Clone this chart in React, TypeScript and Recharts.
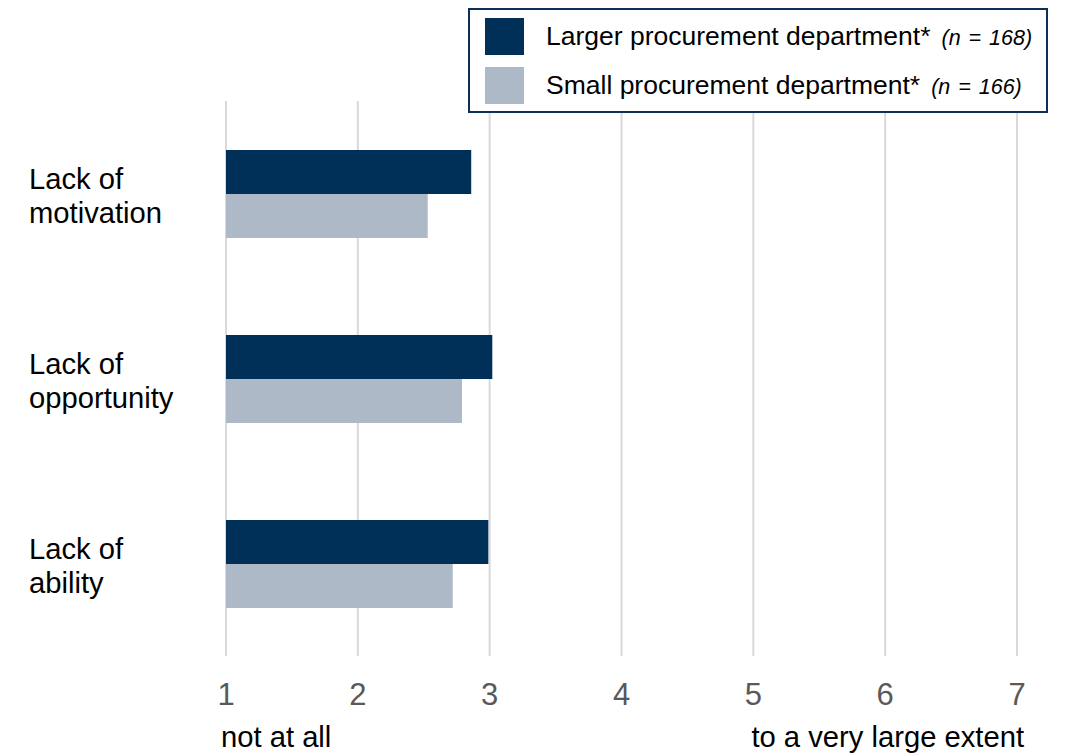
import React from 'react';
import { BarChart, Bar, XAxis, YAxis, CartesianGrid, Legend } from 'recharts';

const categories = ['Lack of motivation', 'Lack of opportunity', 'Lack of ability'];
const categoryLines = [
  ['Lack of', 'motivation'],
  ['Lack of', 'opportunity'],
  ['Lack of', 'ability'],
];
const largerValues = [2.86, 3.02, 2.99];
const smallValues = [2.53, 2.79, 2.72];
const xTicks = [1, 2, 3, 4, 5, 6, 7];
const seriesNames = ['Larger procurement department*', 'Small procurement department*'];
const seriesN = ['(n = 168)', '(n = 166)'];
const scaleLabels = ['not at all', 'to a very large extent'];

const DARK = '#003057';
const LIGHT = '#ADB9C6';
const FONT = '"Liberation Sans", Arial, sans-serif';

const data = categories.map((c, i) => ({
  name: c,
  larger: largerValues[i],
  small: smallValues[i],
}));

const CategoryTick = (props: any) => {
  const { y, payload } = props;
  const idx = categories.indexOf(payload.value);
  const lines = categoryLines[idx] || [payload.value];
  return (
    <g>
      {lines.map((l: string, i: number) => (
        <text key={i} x={29} y={y - 5 + i * 34.5} fontSize={29.2} fill="#000" fontFamily={FONT} textAnchor="start">
          {l}
        </text>
      ))}
    </g>
  );
};

const ScaleLabel = (props: any) => {
  const vb = props.viewBox || {};
  const x0 = vb.x ?? 0;
  const y0 = vb.y ?? 0;
  const w = vb.width ?? 0;
  return (
    <g>
      <text x={x0 - 5} y={y0 + 91} fontSize={29.2} fill="#000" fontFamily={FONT} textAnchor="start">
        {scaleLabels[0]}
      </text>
      <text x={x0 + w + 7} y={y0 + 91} fontSize={29.2} fill="#000" fontFamily={FONT} textAnchor="end">
        {scaleLabels[1]}
      </text>
    </g>
  );
};

const LegendContent = () => {
  const colors = [DARK, LIGHT];
  return (
    <div
      style={{
        boxSizing: 'border-box',
        width: 580,
        height: 105,
        border: '2px solid #0B2F55',
        background: '#fff',
        fontFamily: FONT,
        position: 'relative',
      }}
    >
      {seriesNames.map((s, i) => (
        <div key={i} style={{ position: 'absolute', left: 15, top: 8 + i * 49, height: 37, display: 'flex', alignItems: 'center' }}>
          <div style={{ width: 39, height: 37, background: colors[i] }} />
          <span style={{ marginLeft: 22, fontSize: 26.5, color: '#000', whiteSpace: 'nowrap' }}>
            {s}
            <span style={{ fontStyle: 'italic', fontSize: 21.5, marginLeft: 11, wordSpacing: 2 }}>{seriesN[i]}</span>
          </span>
        </div>
      ))}
    </div>
  );
};

export default function App() {
  return (
    <div style={{ position: 'absolute', left: 0, top: 0, width: 1068, height: 754, background: '#fff' }}>
      <BarChart
        width={1068}
        height={754}
        data={data}
        layout="vertical"
        margin={{ top: 101, right: 51, bottom: 38, left: 0 }}
        barGap={0}
        barCategoryGap={48.5}
      >
        <CartesianGrid horizontal={false} vertical={true} stroke="#D9D9D9" strokeWidth={2} />
        <XAxis
          type="number"
          domain={[1, 7]}
          ticks={xTicks}
          axisLine={false}
          tickLine={false}
          height={60}
          tickMargin={21}
          tick={{ fontSize: 31, fill: '#595959', fontFamily: FONT }}
          interval={0}
          label={<ScaleLabel />}
        />
        <YAxis
          type="category"
          dataKey="name"
          width={226}
          axisLine={false}
          tickLine={false}
          tick={<CategoryTick />}
          interval={0}
        />
        <Legend
          layout="vertical"
          align="center"
          verticalAlign="middle"
          content={<LegendContent />}
          wrapperStyle={{ position: 'absolute', left: 468, top: 8, width: 580, height: 105 }}
        />
        <Bar dataKey="larger" name={seriesNames[0]} fill={DARK} barSize={44} isAnimationActive={false} />
        <Bar dataKey="small" name={seriesNames[1]} fill={LIGHT} barSize={44} isAnimationActive={false} />
      </BarChart>
    </div>
  );
}
